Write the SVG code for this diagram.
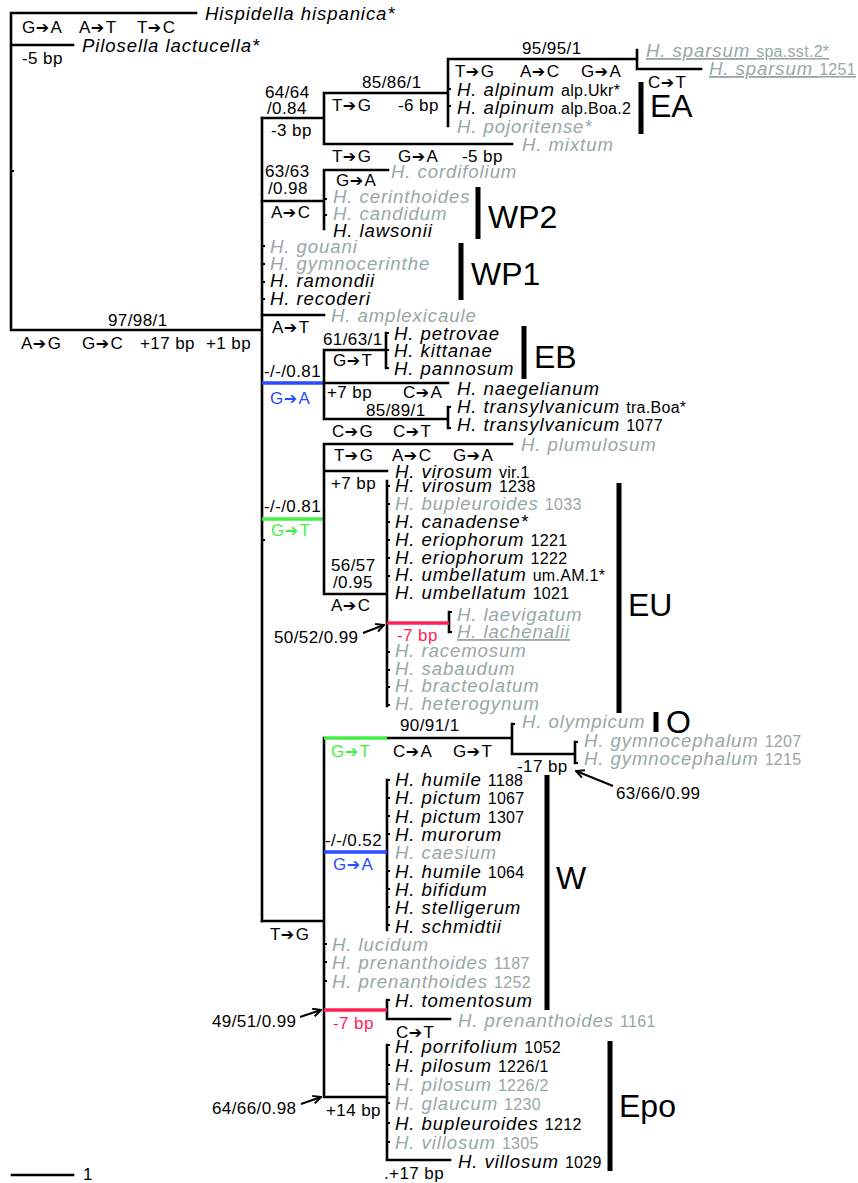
<svg xmlns="http://www.w3.org/2000/svg" width="858" height="1183" viewBox="0 0 858 1183">
  <style>
    .br{stroke:#000;stroke-width:2.6;fill:none;stroke-linecap:square}
    .tk{stroke:#000;stroke-width:2;fill:none}
    .blue{stroke:#2a4bff;stroke-width:3.4;fill:none}
    .grn{stroke:#45ee45;stroke-width:3.4;fill:none}
    .red{stroke:#ff1f52;stroke-width:3.4;fill:none}
    .bar{stroke:#000;stroke-width:5;fill:none}
    .ar{stroke:#000;stroke-width:2;fill:none}
    text{font-family:"Liberation Sans",Arial,sans-serif;fill:#000}
    .sp{font-size:18.6px;font-style:italic;letter-spacing:0.9px}
    .n{font-size:16px;font-style:normal;letter-spacing:0.3px}
    .lb{font-size:17px;letter-spacing:0.4px}
    .a{font-family:"DejaVu Sans",sans-serif;font-size:16px;letter-spacing:1.5px}
    .cl{font-size:32px}
    .g{fill:#97a8a5}
    .u{text-decoration:underline}
    .tb{fill:#2a4bff}
    .tg{fill:#45ee45}
    .tr{fill:#ff1f52}
  </style>
  <defs>
    <marker id="ah" viewBox="0 0 10 10" refX="9" refY="5" markerWidth="10" markerHeight="10" markerUnits="userSpaceOnUse" orient="auto">
      <path d="M1,1 L9,5 L1,9" fill="none" stroke="#000" stroke-width="2"/>
    </marker>
  </defs>
  <rect width="858" height="1183" fill="#fff"/>

  <!-- branches -->
  <g id="connectors">
    <path class="br" d="M11,13 H196 M11,45 H73 M11,13 V330 H262 M262,118 V921"/>
    <!-- EA / mixtum -->
    <path class="br" d="M262,118 H324 M324,93 V144 M324,93 H448 M324,144 H512 M448,59 V126 M448,59 H637 M637,50 V69 H701"/>
    <!-- WP2 -->
    <path class="br" d="M262,201 H324 M324,170 V229 M324,170 H388"/>
    <path class="br" d="M262,315 H324"/>
    <!-- EB -->
    <path class="blue" d="M262,383 H324"/>
    <path class="br" d="M324,350 V419 M324,350 H386 M386,333 V368 M324,383 H448 M324,419 H448 M448,407 V428"/>
    <!-- EU -->
    <path class="grn" d="M262,519 H324"/>
    <path class="br" d="M324,444 V594 M324,444 H512 M324,471 H387 M324,594 H387 M387,481 V706 M449,612 V632"/>
    <path class="red" d="M387,623 H449"/>
    <!-- O, W, Epo -->
    <path class="br" d="M262,921 H324 M324,738 V1097 M387,738 H512 M512,724 V754 H575 M575,742 V763 M387,780 V930 M387,1000 V1019 H450 M324,1097 H387 M387,1045 V1160 H450"/>
    <path class="grn" d="M324,738 H387"/>
    <path class="blue" d="M324,852 H387"/>
    <path class="red" d="M324,1010 H387"/>
    <!-- leaf ticks -->
    <path class="tk" d="M11,171 h3 M448,89 h3 M448,106 h3 M324,199 h3 M324,215 h3 M262,246 h3 M262,264 h3 M262,282 h3 M262,299 h3 M386,333 h3 M386,350 h3 M386,368 h3 M448,407 h3 M448,428 h3 M387,486 h3 M387,504 h3 M387,522 h3 M387,540 h3 M387,558 h3 M387,576 h3 M387,652 h3 M387,670 h3 M387,687 h3 M387,705 h3 M449,612 h3 M449,632 h3 M512,724 h3 M575,742 h3 M575,763 h3 M387,780 h3 M387,798 h3 M387,816 h3 M387,834 h3 M387,871 h3 M387,889 h3 M387,907 h3 M387,925 h3 M324,944 h3 M324,962 h3 M324,981 h3 M387,1000 h3 M387,1045 h3 M387,1065 h3 M387,1084 h3 M387,1103 h3 M387,1123 h3 M387,1142 h3 M262,540 h3"/>
    <!-- support pointers -->
    <path class="ar" marker-end="url(#ah)" d="M363,633 L384,625"/>
    <path class="ar" marker-end="url(#ah)" d="M613,786 L576,771"/>
    <path class="ar" marker-end="url(#ah)" d="M300,1017 L321,1010"/>
    <path class="ar" marker-end="url(#ah)" d="M301,1104 L321,1097"/>
    <!-- scale bar -->
    <path class="br" d="M12,1175 H73"/>
  </g>

  <g id="outgroup">
    <text class="sp" x="205" y="20">Hispidella hispanica*</text>
    <text class="lb" x="22" y="33">G<tspan class="a">➔</tspan>A</text>
    <text class="lb" x="79" y="33">A<tspan class="a">➔</tspan>T</text>
    <text class="lb" x="137" y="33">T<tspan class="a">➔</tspan>C</text>
    <text class="sp" x="82" y="52">Pilosella lactucella*</text>
    <text class="lb" x="22" y="64">-5 bp</text>
  </g>

  <g id="root">
    <text class="lb" x="108" y="326">97/98/1</text>
    <text class="lb" x="21" y="349">A<tspan class="a">➔</tspan>G</text>
    <text class="lb" x="82" y="349">G<tspan class="a">➔</tspan>C</text>
    <text class="lb" x="140" y="349">+17 bp</text>
    <text class="lb" x="206" y="349">+1 bp</text>
  </g>

  <g id="clade-EA">
    <text class="lb" x="265" y="98">64/64</text>
    <text class="lb" x="267" y="114">/0.84</text>
    <text class="lb" x="271" y="136">-3 bp</text>
    <text class="lb" x="362" y="88">85/86/1</text>
    <text class="lb" x="332" y="111">T<tspan class="a">➔</tspan>G</text>
    <text class="lb" x="398" y="111">-6 bp</text>
    <text class="lb" x="522" y="54">95/95/1</text>
    <text class="lb" x="455" y="77">T<tspan class="a">➔</tspan>G</text>
    <text class="lb" x="520" y="77">A<tspan class="a">➔</tspan>C</text>
    <text class="lb" x="581" y="77">G<tspan class="a">➔</tspan>A</text>
    <text class="lb" x="648" y="88">C<tspan class="a">➔</tspan>T</text>
    <text class="sp g u" x="646" y="57">H. sparsum <tspan class="n">spa.sst.2*</tspan></text>
    <text class="sp g u" x="709" y="75">H. sparsum <tspan class="n">1251</tspan></text>
    <text class="sp" x="457" y="96">H. alpinum <tspan class="n">alp.Ukr*</tspan></text>
    <text class="sp" x="457" y="114">H. alpinum <tspan class="n">alp.Boa.2</tspan></text>
    <text class="sp g" x="457" y="133">H. pojoritense*</text>
    <path class="bar" d="M641,82 V134"/>
    <text class="cl" x="650" y="117">EA</text>
  </g>

  <g id="mixtum">
    <text class="sp g" x="522" y="151">H. mixtum</text>
    <text class="lb" x="332" y="162">T<tspan class="a">➔</tspan>G</text>
    <text class="lb" x="398" y="162">G<tspan class="a">➔</tspan>A</text>
    <text class="lb" x="462" y="162">-5 bp</text>
  </g>

  <g id="clade-WP2">
    <text class="lb" x="265" y="177">63/63</text>
    <text class="lb" x="268" y="194">/0.98</text>
    <text class="lb" x="271" y="218">A<tspan class="a">➔</tspan>C</text>
    <text class="lb" x="336" y="186">G<tspan class="a">➔</tspan>A</text>
    <text class="sp g" x="391" y="178">H. cordifolium</text>
    <text class="sp g" x="333" y="203">H. cerinthoides</text>
    <text class="sp g" x="333" y="220">H. candidum</text>
    <text class="sp" x="333" y="237">H. lawsonii</text>
    <path class="bar" d="M478,187 V239"/>
    <text class="cl" x="488" y="228">WP2</text>
  </g>

  <g id="clade-WP1">
    <text class="sp g" x="270" y="253">H. gouani</text>
    <text class="sp g" x="270" y="270">H. gymnocerinthe</text>
    <text class="sp" x="270" y="287">H. ramondii</text>
    <text class="sp" x="270" y="305">H. recoderi</text>
    <path class="bar" d="M461,243 V300"/>
    <text class="cl" x="471" y="285">WP1</text>
  </g>

  <g id="amplexicaule">
    <text class="sp g" x="331" y="322">H. amplexicaule</text>
    <text class="lb" x="272" y="333">A<tspan class="a">➔</tspan>T</text>
  </g>

  <g id="clade-EB">
    <text class="lb" x="264" y="377">-/-/0.81</text>
    <text class="lb tb" x="270" y="404">G<tspan class="a">➔</tspan>A</text>
    <text class="lb" x="323" y="345">61/63/1</text>
    <text class="lb" x="333" y="366">G<tspan class="a">➔</tspan>T</text>
    <text class="sp" x="394" y="340">H. petrovae</text>
    <text class="sp" x="394" y="357">H. kittanae</text>
    <text class="sp" x="394" y="375">H. pannosum</text>
    <path class="bar" d="M524,326 V379"/>
    <text class="cl" x="534" y="368">EB</text>
    <text class="lb" x="327" y="398">+7 bp</text>
    <text class="lb" x="403" y="398">C<tspan class="a">➔</tspan>A</text>
    <text class="sp" x="457" y="395">H. naegelianum</text>
    <text class="lb" x="366" y="416">85/89/1</text>
    <text class="sp" x="457" y="413">H. transylvanicum <tspan class="n">tra.Boa*</tspan></text>
    <text class="sp" x="457" y="431">H. transylvanicum <tspan class="n">1077</tspan></text>
    <text class="lb" x="332" y="437">C<tspan class="a">➔</tspan>G</text>
    <text class="lb" x="393" y="437">C<tspan class="a">➔</tspan>T</text>
  </g>

  <g id="clade-EU">
    <text class="lb" x="264" y="512">-/-/0.81</text>
    <text class="lb tg" x="271" y="536">G<tspan class="a">➔</tspan>T</text>
    <text class="lb" x="334" y="461">T<tspan class="a">➔</tspan>G</text>
    <text class="lb" x="392" y="461">A<tspan class="a">➔</tspan>C</text>
    <text class="lb" x="453" y="461">G<tspan class="a">➔</tspan>A</text>
    <text class="sp g" x="521" y="451">H. plumulosum</text>
    <text class="sp" x="395" y="478">H. virosum <tspan class="n">vir.1</tspan></text>
    <text class="lb" x="331" y="489">+7 bp</text>
    <text class="lb" x="331" y="571">56/57</text>
    <text class="lb" x="333" y="588">/0.95</text>
    <text class="lb" x="331" y="611">A<tspan class="a">➔</tspan>C</text>
    <text class="sp" x="395" y="492">H. virosum <tspan class="n">1238</tspan></text>
    <text class="sp g" x="395" y="510">H. bupleuroides <tspan class="n">1033</tspan></text>
    <text class="sp" x="395" y="528">H. canadense*</text>
    <text class="sp" x="395" y="546">H. eriophorum <tspan class="n">1221</tspan></text>
    <text class="sp" x="395" y="564">H. eriophorum <tspan class="n">1222</tspan></text>
    <text class="sp" x="395" y="581">H. umbellatum <tspan class="n">um.AM.1*</tspan></text>
    <text class="sp" x="395" y="599">H. umbellatum <tspan class="n">1021</tspan></text>
    <text class="lb" x="274" y="643">50/52/0.99</text>
    <text class="lb tr" x="397" y="641">-7 bp</text>
    <text class="sp g" x="457" y="621">H. laevigatum</text>
    <text class="sp g u" x="457" y="638">H. lachenalii</text>
    <text class="sp g" x="395" y="657">H. racemosum</text>
    <text class="sp g" x="395" y="675">H. sabaudum</text>
    <text class="sp g" x="395" y="692">H. bracteolatum</text>
    <text class="sp g" x="395" y="710">H. heterogynum</text>
    <path class="bar" d="M619,483 V713"/>
    <text class="cl" x="628" y="616">EU</text>
  </g>

  <g id="clade-O">
    <text class="lb tg" x="331" y="757">G<tspan class="a">➔</tspan>T</text>
    <text class="lb" x="400" y="731">90/91/1</text>
    <text class="lb" x="393" y="757">C<tspan class="a">➔</tspan>A</text>
    <text class="lb" x="453" y="757">G<tspan class="a">➔</tspan>T</text>
    <text class="sp g" x="522" y="728">H. olympicum</text>
    <text class="sp g" x="584" y="747">H. gymnocephalum <tspan class="n">1207</tspan></text>
    <text class="sp g" x="584" y="765">H. gymnocephalum <tspan class="n">1215</tspan></text>
    <text class="lb" x="517" y="772">-17 bp</text>
    <text class="lb" x="616" y="799">63/66/0.99</text>
    <path class="bar" d="M656,712 V732"/>
    <text class="cl" x="666" y="733">O</text>
  </g>

  <g id="clade-W">
    <text class="lb" x="325" y="846">-/-/0.52</text>
    <text class="lb tb" x="333" y="870">G<tspan class="a">➔</tspan>A</text>
    <text class="sp" x="395" y="786">H. humile <tspan class="n">1188</tspan></text>
    <text class="sp" x="395" y="804">H. pictum <tspan class="n">1067</tspan></text>
    <text class="sp" x="395" y="823">H. pictum <tspan class="n">1307</tspan></text>
    <text class="sp" x="395" y="841">H. murorum</text>
    <text class="sp g" x="395" y="859">H. caesium</text>
    <text class="sp" x="395" y="878">H. humile <tspan class="n">1064</tspan></text>
    <text class="sp" x="395" y="896">H. bifidum</text>
    <text class="sp" x="395" y="914">H. stelligerum</text>
    <text class="sp" x="395" y="933">H. schmidtii</text>
    <text class="lb" x="270" y="940">T<tspan class="a">➔</tspan>G</text>
    <text class="sp g" x="332" y="951">H. lucidum</text>
    <text class="sp g" x="332" y="969">H. prenanthoides <tspan class="n">1187</tspan></text>
    <text class="sp g" x="332" y="988">H. prenanthoides <tspan class="n">1252</tspan></text>
    <text class="lb" x="212" y="1027">49/51/0.99</text>
    <text class="lb tr" x="333" y="1029">-7 bp</text>
    <text class="sp" x="395" y="1007">H. tomentosum</text>
    <text class="lb" x="396" y="1038">C<tspan class="a">➔</tspan>T</text>
    <text class="sp g" x="458" y="1027">H. prenanthoides <tspan class="n">1161</tspan></text>
    <path class="bar" d="M547,775 V1010"/>
    <text class="cl" x="556" y="889">W</text>
  </g>

  <g id="clade-Epo">
    <text class="lb" x="212" y="1114">64/66/0.98</text>
    <text class="lb" x="326" y="1116">+14 bp</text>
    <text class="sp" x="395" y="1053">H. porrifolium <tspan class="n">1052</tspan></text>
    <text class="sp" x="395" y="1072">H. pilosum <tspan class="n">1226/1</tspan></text>
    <text class="sp g" x="395" y="1091">H. pilosum <tspan class="n">1226/2</tspan></text>
    <text class="sp g" x="395" y="1110">H. glaucum <tspan class="n">1230</tspan></text>
    <text class="sp" x="395" y="1130">H. bupleuroides <tspan class="n">1212</tspan></text>
    <text class="sp g" x="395" y="1149">H. villosum <tspan class="n">1305</tspan></text>
    <text class="sp" x="458" y="1168">H. villosum <tspan class="n">1029</tspan></text>
    <text class="lb" x="384" y="1179">.+17 bp</text>
    <path class="bar" d="M610,1041 V1171"/>
    <text class="cl" x="619" y="1117">Epo</text>
  </g>

  <g id="scale">
    <text class="lb" x="83" y="1180" font-size="15">1</text>
  </g>
</svg>
